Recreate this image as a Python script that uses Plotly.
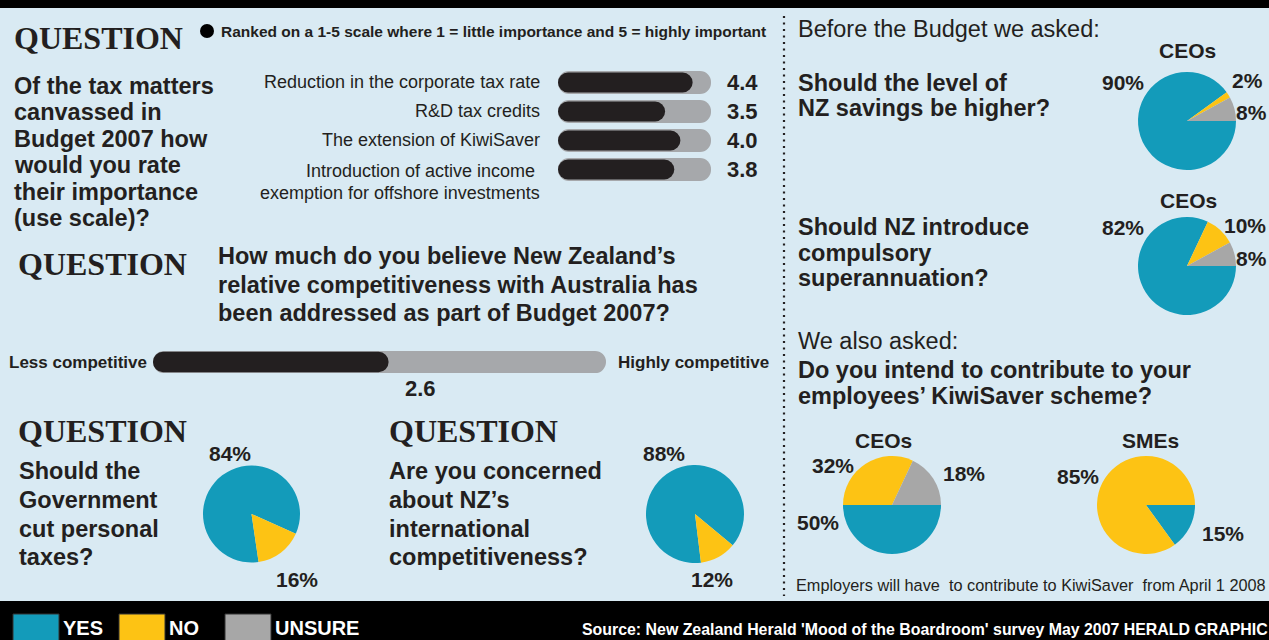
import plotly.graph_objects as go

W, H = 1269, 640

BLUE = "#139bba"
YELLOW = "#fdc314"
GREY = "#a7a7a7"
TRACK = "#a6a8ab"
INK = "#231f20"
BG = "#d9eaf3"

SANS = "Liberation Sans, Arial, Helvetica, sans-serif"
SERIF = "Liberation Serif, Times New Roman, serif"

# ---------------- data ----------------
rank_labels = [
    ["Reduction in the corporate tax rate"],
    ["R&D tax credits"],
    ["The extension of KiwiSaver"],
    ["Introduction of active income ", "exemption for offshore investments"],
]
rank_scores = [4.4, 3.5, 4.0, 3.8]
scale_max = 5

competitiveness_score = 2.6

answer_labels = ["YES", "NO", "UNSURE"]
answer_colors = [BLUE, YELLOW, GREY]

savings_ceos = [90, 2, 8]
super_ceos = [82, 10, 8]
kiwisaver_ceos = [50, 32, 18]
kiwisaver_smes = [15, 85, 0]
cut_taxes = [84, 16, 0]
concern_competitiveness = [88, 12, 0]

fig = go.Figure()


def px(x):
    return x / W


def py(y):
    return 1 - y / H


def txt(x, y, s, size, bold=False, anchor="left", color=INK, family=SANS, **kw):
    d = dict(x=px(x), y=py(y), xref="paper", yref="paper", text=s, showarrow=False,
             xanchor=anchor, yanchor="middle",
             font=dict(family=family, size=size, color=color,
                       weight="bold" if bold else "normal"))
    d.update(kw)
    return d


annotations = []
shapes = []


# ---------------- rounded bars ----------------
def pill(values, ys, width, color, radius, xa, ya):
    # an explicit base gives the bar rounded ends on both sides
    fig.add_trace(go.Bar(orientation="h", y=ys, base=[0] * len(values), x=values,
                         width=width,
                         marker=dict(color=color, cornerradius=radius, line=dict(width=0)),
                         xaxis=xa, yaxis=ya, hoverinfo="skip"))


rows = list(range(len(rank_scores)))
pill([scale_max] * len(rows), rows, 0.79, TRACK, 12, "x2", "y2")
pill(rank_scores, rows, 0.69, INK, 10, "x2", "y2")

pill([scale_max], [0], 0.74, TRACK, 12, "x3", "y3")
pill([competitiveness_score], [0], 0.68, INK, 11, "x3", "y3")

# row labels and scores
for i, (lines, v) in enumerate(zip(rank_labels, rank_scores)):
    for j, line in enumerate(lines):
        annotations.append(dict(x=px(542), y=i, xref="paper", yref="y2", text=line,
                                showarrow=False, xanchor="right", yanchor="middle",
                                yshift=-2 - 22 * j if len(lines) > 1 else 0,
                                font=dict(family=SANS, size=18, color=INK)))
    annotations.append(dict(x=px(742), y=i, xref="paper", yref="y2", text=f"{v:.1f}",
                            showarrow=False, xanchor="center", yanchor="middle",
                            font=dict(family=SANS, size=22, color=INK, weight="bold")))


# ---------------- pies ----------------
def pie(values, cx, cy, r, rotation):
    fig.add_trace(go.Pie(labels=answer_labels, values=values, sort=False,
                         direction="clockwise", rotation=rotation,
                         marker=dict(colors=answer_colors, line=dict(width=0)),
                         textinfo="none", hoverinfo="skip", showlegend=False,
                         domain=dict(x=[px(cx - r), px(cx + r)], y=[py(cy + r), py(cy - r)])))


pie(savings_ceos, 1187, 121, 49, 90)
pie(super_ceos, 1187, 266, 49, 90)
pie(kiwisaver_ceos, 892, 505, 49, 90)
pie(kiwisaver_smes, 1146, 505, 49, 90)
pie(cut_taxes, 251.5, 514, 48.5, 171.6)
pie(concern_competitiveness, 695, 514, 49, 173)


def pct(v):
    return f"{v}%"


PCT = 21
annotations += [
    txt(1123, 83, pct(savings_ceos[0]), PCT, True, "center"),
    txt(1247, 80, pct(savings_ceos[1]), PCT, True, "center"),
    txt(1251, 113, pct(savings_ceos[2]), PCT, True, "center"),
    txt(1123, 228, pct(super_ceos[0]), PCT, True, "center"),
    txt(1245, 225, pct(super_ceos[1]), PCT, True, "center"),
    txt(1251, 258, pct(super_ceos[2]), PCT, True, "center"),
    txt(818, 522, pct(kiwisaver_ceos[0]), PCT, True, "center"),
    txt(833, 465, pct(kiwisaver_ceos[1]), PCT, True, "center"),
    txt(964, 473, pct(kiwisaver_ceos[2]), PCT, True, "center"),
    txt(1223, 533, pct(kiwisaver_smes[0]), PCT, True, "center"),
    txt(1078, 476, pct(kiwisaver_smes[1]), PCT, True, "center"),
    txt(230, 453, pct(cut_taxes[0]), PCT, True, "center"),
    txt(297, 579, pct(cut_taxes[1]), PCT, True, "center"),
    txt(664, 453, pct(concern_competitiveness[0]), PCT, True, "center"),
    txt(712, 579, pct(concern_competitiveness[1]), PCT, True, "center"),
]

# ---------------- headings and question text ----------------
Q = 32
annotations += [
    txt(12, 38, "QUESTION", Q, True, family=SERIF),
    txt(16, 264, "QUESTION", Q, True, family=SERIF),
    txt(16, 431, "QUESTION", Q, True, family=SERIF),
    txt(387, 431, "QUESTION", Q, True, family=SERIF),
    txt(219, 31, "Ranked on a 1-5 scale where 1 = little importance and 5 = highly important",
        15.5, True),
]

QT = 23.5
question1 = ["Of the tax matters", "canvassed in", "Budget 2007 how", "would you rate",
             "their importance", "(use scale)?"]
for line, y in zip(question1, [86, 112, 139, 165, 192, 218]):
    annotations.append(txt(12, y, line, QT, True))

question2 = ["How much do you believe New Zealand’s", "relative competitiveness with Australia has",
             "been addressed as part of Budget 2007?"]
for line, y in zip(question2, [256, 285, 313]):
    annotations.append(txt(216, y, line, QT, True))

question3 = ["Should the", "Government", "cut personal", "taxes?"]
question4 = ["Are you concerned", "about NZ’s", "international", "competitiveness?"]
for a, b, y in zip(question3, question4, [471, 500, 529, 557]):
    annotations.append(txt(17, y, a, QT, True))
    annotations.append(txt(387, y, b, QT, True))

annotations += [
    txt(149, 362, "Less competitive", 17, True, "right"),
    txt(616, 362, "Highly competitive", 17, True),
    txt(420, 388, f"{competitiveness_score:.1f}", 22, True, "center"),
]

# right-hand panel
annotations += [
    txt(796, 29, "Before the Budget we asked:", 23.5),
    txt(1187, 50, "CEOs", 21, True, "center"),
    txt(796, 83, "Should the level of", QT, True),
    txt(796, 108, "NZ savings be higher?", QT, True),
    txt(1188, 200, "CEOs", 21, True, "center"),
    txt(796, 227, "Should NZ introduce", QT, True),
    txt(796, 253, "compulsory", QT, True),
    txt(796, 278, "superannuation?", QT, True),
    txt(796, 341, "We also asked:", 23.5),
    txt(796, 370, "Do you intend to contribute to your", QT, True),
    txt(796, 396, "employees’ KiwiSaver scheme?", QT, True),
    txt(883, 440, "CEOs", 21, True, "center"),
    txt(1150, 440, "SMEs", 21, True, "center"),
    txt(794, 585, "Employers will have  to contribute to KiwiSaver  from April 1 2008", 16.3),
]

# ---------------- footer ----------------
swatch_x = [13, 119, 225]
for x0, col, lab in zip(swatch_x, answer_colors, answer_labels):
    shapes.append(dict(type="rect", xref="paper", yref="paper", x0=px(x0), x1=px(x0 + 46),
                       y0=py(641), y1=py(614), fillcolor=col, line=dict(color="#333333", width=1)))
    annotations.append(txt(x0 + 48, 628, lab, 20, True, color="white"))
annotations.append(txt(580, 629, "Source: New Zealand Herald 'Mood of the Boardroom' survey May 2007 HERALD GRAPHIC",
                       15.9, True, color="white"))

shapes += [
    dict(type="rect", xref="paper", yref="paper", x0=0, x1=1, y0=py(8), y1=1,
         fillcolor="black", line=dict(width=0), layer="below"),
    dict(type="rect", xref="paper", yref="paper", x0=0, x1=1, y0=0, y1=py(601),
         fillcolor="black", line=dict(width=0), layer="below"),
    dict(type="line", xref="paper", yref="paper", x0=px(784), x1=px(784), y0=py(16), y1=py(596),
         line=dict(color=INK, width=2.2, dash="2px,4.5px")),
    dict(type="circle", xref="paper", yref="paper", x0=px(200), x1=px(214), y0=py(38), y1=py(24),
         fillcolor="black", line=dict(width=0)),
]

hidden = dict(visible=False, fixedrange=True)
fig.update_layout(
    width=W, height=H,
    margin=dict(l=0, r=0, t=0, b=0),
    paper_bgcolor=BG, plot_bgcolor="rgba(0,0,0,0)",
    showlegend=False, barmode="overlay",
    xaxis2=dict(domain=[px(558), px(711)], range=[0, scale_max], anchor="y2", **hidden),
    yaxis2=dict(domain=[py(184), py(68)], range=[3.5, -0.5], anchor="x2", **hidden),
    xaxis3=dict(domain=[px(153), px(606)], range=[0, scale_max], anchor="y3", **hidden),
    yaxis3=dict(domain=[py(377), py(347)], range=[-0.5, 0.5], anchor="x3", **hidden),
    annotations=annotations,
    shapes=shapes,
)

fig.write_html("out.html")
